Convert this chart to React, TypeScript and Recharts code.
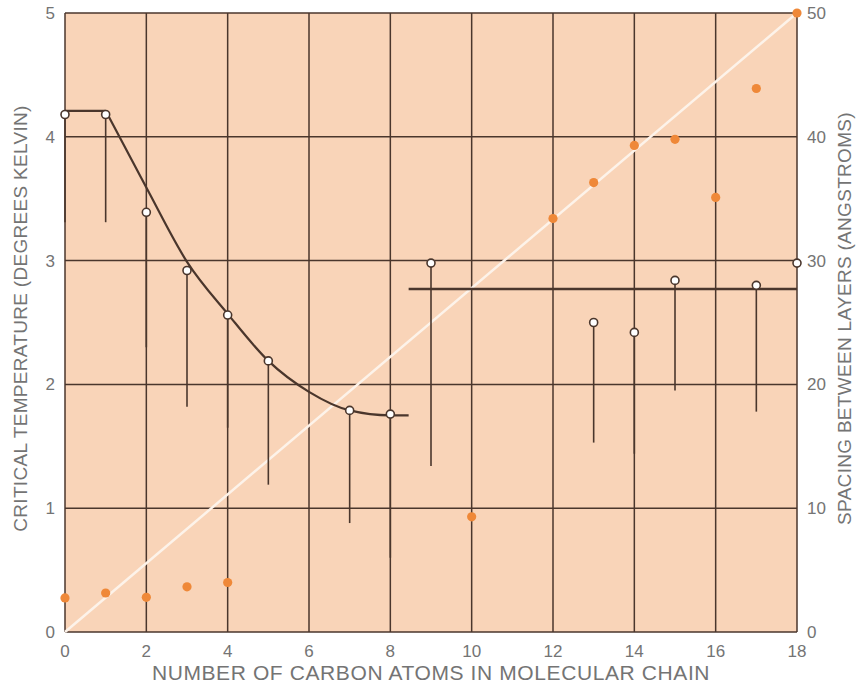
import React from "react";
import {
  ComposedChart,
  Line,
  Scatter,
  ErrorBar,
  XAxis,
  YAxis,
  CartesianGrid,
} from "recharts";

// critical temperature readings (open circles) and the low end of each range
const tcAtoms = [0, 1, 2, 3, 4, 5, 7, 8, 9, 13, 14, 15, 17, 18];
const tcHigh = [4.18, 4.18, 3.39, 2.92, 2.56, 2.19, 1.79, 1.76, 2.98, 2.5, 2.42, 2.84, 2.8, 2.98];
const tcLow = [3.31, 3.31, 2.3, 1.82, 1.65, 1.19, 0.88, 0.6, 1.34, 1.53, 1.44, 1.95, 1.78, 2.98];

// layer spacing (orange dots, right axis)
const spacingAtoms = [0, 1, 2, 3, 4, 10, 12, 13, 14, 15, 16, 17, 18];
const spacingValues = [2.75, 3.15, 2.8, 3.65, 4.0, 9.3, 33.4, 36.3, 39.3, 39.8, 35.1, 43.9, 50];

// drawn trend for short chains
const flatAtoms = [0, 1];
const flatTc = [4.21, 4.21];
const curveAtoms = [1, 2, 3, 4, 5, 6, 7, 8, 8.45];
const curveTc = [4.21, 3.59, 2.99, 2.57, 2.19, 1.94, 1.79, 1.75, 1.75];

// level for long chains
const plateauAtoms = [8.45, 18];
const plateauTc = [2.77, 2.77];

// reference diagonal on spacing axis
const diagAtoms = [0, 18];
const diagSpacing = [0, 50];

const xTicks = [0, 2, 4, 6, 8, 10, 12, 14, 16, 18];
const tcTicks = [0, 1, 2, 3, 4, 5];
const spacingTicks = [0, 10, 20, 30, 40, 50];

const tcPoints = tcAtoms.map((x, i) => ({
  x,
  t: tcHigh[i],
  range: [tcHigh[i] - tcLow[i], 0],
}));
const spacingPoints = spacingAtoms.map((x, i) => ({ x, s: spacingValues[i] }));
const flatLine = flatAtoms.map((x, i) => ({ x, t: flatTc[i] }));
const curveLine = curveAtoms.map((x, i) => ({ x, t: curveTc[i] }));
const plateauLine = plateauAtoms.map((x, i) => ({ x, t: plateauTc[i] }));
const diagLine = diagAtoms.map((x, i) => ({ x, s: diagSpacing[i] }));

const FONT = "'Liberation Sans', Arial, Helvetica, sans-serif";
const INK = "#4a362c";
const TEXT = "#747474";

function SideTitle(props: any) {
  const { viewBox, value, posX } = props;
  const cy = viewBox ? viewBox.y + viewBox.height / 2 - 4 : 318;
  return (
    <text
      x={posX}
      y={cy}
      transform={`rotate(-90 ${posX} ${cy})`}
      textAnchor="middle"
      dominantBaseline="central"
      fill={TEXT}
      fontSize={19}
      letterSpacing={0.3}
      fontFamily={FONT}
    >
      {value}
    </text>
  );
}

function BottomTitle(props: any) {
  const { viewBox, value } = props;
  const cx = viewBox ? viewBox.x + viewBox.width / 2 : 431;
  return (
    <text
      x={cx}
      y={680}
      textAnchor="middle"
      fill={TEXT}
      fontSize={21}
      letterSpacing={0.6}
      fontFamily={FONT}
    >
      {value}
    </text>
  );
}

const openCircle = (p: any) => (
  <circle cx={p.cx} cy={p.cy} r={4} fill="#ffffff" stroke={INK} strokeWidth={1.6} />
);

const orangeDot = (p: any) => <circle cx={p.cx} cy={p.cy} r={4.6} fill="#ef8838" />;

export default function App() {
  const tick = { fill: TEXT, fontSize: 17, fontFamily: FONT };
  return (
    <div style={{ position: "absolute", left: 0, top: 0, background: "#fff" }}>
      <ComposedChart
        width={856}
        height={684}
        margin={{ top: 13, right: 0, bottom: 0, left: 0 }}
      >
        <CartesianGrid
          fill="#f9d4b8"
          fillOpacity={1}
          stroke={INK}
          strokeWidth={1.5}
        />
        <XAxis
          dataKey="x"
          type="number"
          domain={[0, 18]}
          ticks={xTicks}
          height={52}
          axisLine={false}
          tickLine={false}
          tickSize={0}
          tickMargin={13}
          tick={tick}
          label={<BottomTitle value="NUMBER OF CARBON ATOMS IN MOLECULAR CHAIN" />}
        />
        <YAxis
          type="number"
          domain={[0, 5]}
          ticks={tcTicks}
          width={65}
          axisLine={false}
          tickLine={false}
          tickSize={0}
          tickMargin={10}
          tick={tick}
          label={<SideTitle posX={20} value="CRITICAL TEMPERATURE (DEGREES KELVIN)" />}
        />
        <YAxis
          yAxisId="s"
          orientation="right"
          type="number"
          domain={[0, 50]}
          ticks={spacingTicks}
          width={59}
          axisLine={false}
          tickLine={false}
          tickSize={0}
          tickMargin={10}
          tick={tick}
          label={<SideTitle posX={844} value="SPACING BETWEEN LAYERS (ANGSTROMS)" />}
        />
        <Line
          data={diagLine}
          yAxisId="s"
          dataKey="s"
          type="linear"
          stroke="#fdf3ea"
          strokeWidth={2.5}
          dot={false}
          isAnimationActive={false}
        />
        <Line
          data={flatLine}
          dataKey="t"
          type="linear"
          stroke={INK}
          strokeWidth={2.2}
          dot={false}
          isAnimationActive={false}
        />
        <Line
          data={curveLine}
          dataKey="t"
          type="monotone"
          stroke={INK}
          strokeWidth={2.2}
          dot={false}
          isAnimationActive={false}
        />
        <Line
          data={plateauLine}
          dataKey="t"
          type="linear"
          stroke={INK}
          strokeWidth={2.4}
          dot={false}
          isAnimationActive={false}
        />
        <Scatter
          data={tcPoints}
          dataKey="t"
          shape={openCircle}
          isAnimationActive={false}
        >
          <ErrorBar dataKey="range" direction="y" width={0} stroke={INK} strokeWidth={1.6} />
        </Scatter>
        <Scatter
          data={spacingPoints}
          yAxisId="s"
          dataKey="s"
          shape={orangeDot}
          isAnimationActive={false}
        />
      </ComposedChart>
    </div>
  );
}
